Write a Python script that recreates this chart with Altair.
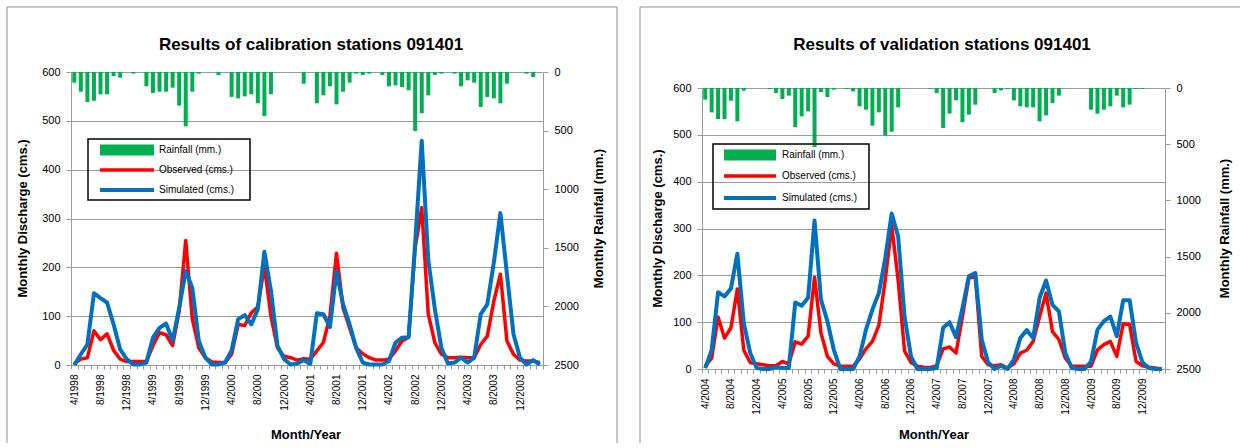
import altair as alt
import pandas as pd

FONT = "Liberation Sans"
GREEN = "#00B050"
RED = "#FF0000"
BLUE = "#0070C0"
GRID = "#9A9A9A"
BORDER = "#8E8E8E"

# ---- categories (April .. March water years) ----
cal_months = [f"{(3 + i) % 12 + 1}/{1998 + (3 + i) // 12}" for i in range(72)]
val_months = [f"{(3 + i) % 12 + 1}/{2004 + (3 + i) // 12}" for i in range(72)]

# ---- calibration 4/1998 - 3/2004 ----
cal_rain = [91, 168, 256, 245, 190, 190, 34, 48, 0, 14, 0, 122,
            179, 168, 168, 134, 287, 464, 168, 14, 0, 0, 26, 0,
            213, 225, 208, 190, 267, 375, 190, 0, 0, 0, 0, 100,
            0, 267, 199, 122, 276, 168, 91, 14, 26, 14, 0, 26,
            122, 114, 128, 156, 503, 352, 199, 26, 14, 0, 14, 122,
            71, 91, 298, 213, 225, 267, 99, 0, 0, 14, 43, 0]
cal_obs = [3, 12, 15, 70, 52, 64, 30, 12, 7, 7, 7, 7,
           40, 66, 62, 40, 110, 255, 95, 35, 15, 6, 5, 5,
           22, 83, 81, 107, 119, 203, 100, 35, 18, 15, 10, 13,
           12, 29, 46, 100, 229, 117, 76, 35, 23, 15, 10, 10,
           12, 29, 49, 57, 240, 322, 104, 46, 22, 15, 15, 16,
           15, 15, 42, 59, 131, 186, 49, 22, 10, 8, 8, 5]
cal_sim = [0, 22, 42, 147, 137, 128, 83, 32, 12, 1, 1, 5,
           56, 76, 85, 50, 117, 192, 158, 49, 15, 1, 1, 5,
           30, 94, 102, 83, 114, 232, 152, 39, 12, 1, 3, 10,
           2, 106, 104, 78, 192, 124, 83, 35, 5, 1, 1, 1,
           8, 46, 56, 57, 250, 459, 215, 115, 35, 3, 5, 15,
           5, 15, 104, 124, 210, 311, 186, 63, 15, 1, 10, 1]

# ---- validation 4/2004 - 3/2010 ----
val_rain = [104, 217, 276, 276, 113, 297, 24, 0, 0, 0, 9, 45,
            98, 68, 347, 252, 208, 525, 36, 80, 15, 0, 9, 30,
            163, 193, 335, 217, 424, 389, 172, 0, 0, 0, 0, 5,
            44, 356, 228, 110, 305, 237, 148, 0, 0, 44, 21, 9,
            110, 163, 172, 172, 297, 243, 133, 68, 0, 0, 0, 0,
            193, 228, 193, 163, 68, 172, 148, 9, 9, 0, 0, 0]
val_obs = [6, 23, 111, 66, 88, 171, 40, 14, 11, 9, 7, 7,
           16, 11, 58, 53, 70, 196, 77, 27, 11, 6, 6, 6,
           21, 43, 59, 93, 191, 306, 190, 38, 14, 6, 4, 3,
           7, 43, 47, 34, 112, 194, 198, 27, 9, 7, 9, 2,
           11, 34, 40, 59, 112, 162, 80, 63, 23, 6, 6, 6,
           6, 41, 52, 59, 27, 97, 95, 16, 7, 4, 2, 0]
val_sim = [2, 40, 164, 155, 172, 246, 98, 34, 2, 0, 0, 4,
           2, 2, 142, 135, 152, 317, 148, 102, 41, 0, 0, 0,
           27, 84, 127, 162, 237, 332, 283, 112, 27, 0, 0, 0,
           2, 88, 100, 68, 130, 198, 205, 63, 14, 0, 7, 0,
           20, 66, 83, 66, 152, 189, 137, 123, 34, 2, 0, 0,
           16, 84, 102, 112, 70, 147, 147, 56, 14, 2, 0, 0]

left_ticks = [0, 100, 200, 300, 400, 500, 600]
right_ticks = [0, 500, 1000, 1500, 2000, 2500]
legend_labels = ["Rainfall (mm.)", "Observed (cms.)", "Simulated (cms.)"]

ONE = pd.DataFrame({"k": [0]})


def txt(s, x, y, size, bold=False, angle=0, align="center"):
    return alt.Chart(pd.DataFrame({"t": [s]})).mark_text(
        font=FONT, fontSize=size, fontWeight="bold" if bold else "normal",
        angle=angle, align=align, baseline="middle", color="black"
    ).encode(x=alt.value(x), y=alt.value(y), text="t:N")


def rule(x1, y1, x2, y2, color, width):
    return alt.Chart(ONE).mark_rule(color=color, strokeWidth=width).encode(
        x=alt.value(x1), x2=alt.value(x2), y=alt.value(y1), y2=alt.value(y2))


def rect(x1, y1, x2, y2, fill=None, stroke=None, sw=1):
    kw = {}
    if fill:
        kw["fill"] = fill
        kw["fillOpacity"] = 1
    else:
        kw["fillOpacity"] = 0
    if stroke:
        kw["stroke"] = stroke
        kw["strokeWidth"] = sw
    return alt.Chart(ONE).mark_rect(**kw).encode(
        x=alt.value(x1), x2=alt.value(x2), y=alt.value(y1), y2=alt.value(y2))


def panel(months, rain, obs, sim, title, W, H, top, g):
    df = pd.DataFrame({"idx": list(range(len(months))), "month": months,
                       "rain": rain, "obs": obs, "sim": sim})
    xenc = alt.X("month:N", sort=months, title=None,
                 scale=alt.Scale(type="band", paddingInner=0, paddingOuter=0),
                 axis=alt.Axis(labelAngle=270, labelFontSize=10, labelPadding=5,
                               tickSize=4, tickBand="extent", labelOverlap=False,
                               labelExpr="indexof(['4','8','12'], split(datum.value, '/')[0]) >= 0 ? datum.value : ''",
                               domainColor=GRID, tickColor=GRID, grid=False,
                               labelColor="black", labelFont=FONT))
    bars = alt.Chart(df).mark_bar(color=GREEN, size=4).encode(
        x=xenc,
        y=alt.Y("rain:Q", title=None,
                scale=alt.Scale(domain=[0, 2500], range=[top, H], nice=False),
                axis=alt.Axis(orient="right", values=right_ticks, grid=False, format="d",
                              tickSize=5, labelPadding=6, labelFontSize=11,
                              labelAlign="left", domainColor=GRID, tickColor=GRID,
                              labelColor="black", labelFont=FONT)))
    lines = alt.Chart(df).transform_fold(["obs", "sim"], as_=["series", "q"]).mark_line(
        strokeJoin="round").encode(
        x=xenc,
        y=alt.Y("q:Q", title=None,
                scale=alt.Scale(domain=[0, 600], range=[H, top], nice=False),
                axis=alt.Axis(orient="left", values=left_ticks, grid=True,
                              gridColor=GRID, tickSize=5, labelPadding=6,
                              labelFontSize=11, domainColor=GRID, tickColor=GRID,
                              labelColor="black", labelFont=FONT)),
        color=alt.Color("series:N", scale=alt.Scale(domain=["obs", "sim"], range=[RED, BLUE]),
                        legend=None),
        strokeWidth=alt.StrokeWidth("series:N", scale=alt.Scale(domain=["obs", "sim"], range=[3.5, 4]),
                                    legend=None),
        order=alt.Order("idx:Q"))

    deco = []
    bl, br, bt, bb = g["border"]
    deco.append(rule(bl, bt, br, bt, BORDER, 1))
    deco.append(rule(bl, bt, bl, bb, BORDER, 1))
    if g.get("right_side"):
        deco.append(rule(br, bt, br, bb, BORDER, 1))
    deco.append(txt(title, g["title"][0], g["title"][1], 17, bold=True))
    deco.append(txt("Month/Year", g["xtitle"][0], g["xtitle"][1], 13, bold=True))
    deco.append(txt("Monthly Discharge (cms.)", g["yl"][0], g["yl"][1], 13, bold=True, angle=270))
    deco.append(txt("Monthly Rainfall (mm.)", g["yr"][0], g["yr"][1], 13, bold=True, angle=270))
    lx1, ly1, lx2, ly2 = g["lbox"]
    deco.append(rect(lx1, ly1, lx2, ly2, stroke="black", sw=1.5))
    rows = g["rows"]
    sx1, sx2, tx = g["sym"]
    deco.append(rect(sx1, rows[0] - 5.5, sx2, rows[0] + 5.5, fill=GREEN))
    deco.append(rule(sx1, rows[1], sx2, rows[1], RED, 3.5))
    deco.append(rule(sx1, rows[2], sx2, rows[2], BLUE, 4))
    for lab, ry in zip(legend_labels, rows):
        deco.append(txt(lab, tx, ry, 10, align="left"))

    return alt.layer(bars, lines, *deco).resolve_scale(y="independent").properties(
        width=W, height=H)


geo_cal = {"border": (-64, 546, -65, 371), "right_side": True,
           "title": (240, -27), "xtitle": (235, 363),
           "yl": (-48, 146.5), "yr": (528, 146.5),
           "lbox": (17, 67, 179, 128), "rows": (78, 98, 118), "sym": (29, 83, 88)}
geo_val = {"border": (-62, 538, -65, 371), "right_side": False,
           "title": (240, -27), "xtitle": (232, 363),
           "yl": (-44, 156.5), "yr": (523, 156.5),
           "lbox": (11, 72, 167, 137), "rows": (83, 104, 126), "sym": (22, 74, 80)}

p1 = panel(cal_months, cal_rain, cal_obs, cal_sim,
           "Results of calibration stations 091401", 472, 293, 0, geo_cal)
p2 = panel(val_months, val_rain, val_obs, val_sim,
           "Results of validation stations 091401", 463, 297, 16, geo_val)

chart = alt.hconcat(p1, p2, spacing=21).configure(
    padding={"left": 6, "top": 6, "right": 0, "bottom": 0},
    font=FONT, background="white"
).configure_view(strokeWidth=0)

chart.save("out.html", embed_options={"renderer": "svg", "actions": False})
